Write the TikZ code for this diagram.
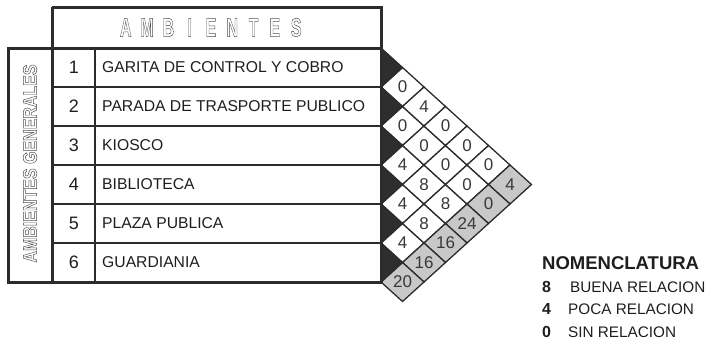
\documentclass[tikz,border=0pt]{standalone}
\usepackage{fontspec}
\setmainfont{Liberation Sans}
\usepackage{graphicx}
\definecolor{fr}{HTML}{2C2C2C}
\definecolor{tb}{HTML}{2E2E2E}
\definecolor{cg}{HTML}{C8C8C8}
\definecolor{ol}{HTML}{505050}
\definecolor{tx}{HTML}{1E1E1E}
\definecolor{cv}{HTML}{383838}
\newcommand\outlinetext[1]{\special{pdf:literal direct 1 Tr 0.55 w}#1\special{pdf:literal direct 0 Tr}}
\newcommand\spl[1]{\makebox[35.5pt]{#1}}
\begin{document}
\begin{tikzpicture}[x=1pt,y=-1pt,
  cellw/.style={fill=white,draw=fr,line width=1.3pt,line join=miter},
  cellg/.style={fill=cg,draw=fr,line width=1.3pt,line join=miter},
  tri/.style={fill=tb,draw=fr,line width=1.3pt},
  val/.style={text=cv,font=\fontsize{17}{18}\selectfont,inner sep=0pt},
  thick frame/.style={draw=fr,line width=3pt},
  thin frame/.style={draw=fr,line width=2pt},
  rowname/.style={anchor=west,text=tx,font=\fontsize{15.7}{16}\selectfont,inner sep=0pt},
  rownum/.style={text=tx,font=\fontsize{18}{19}\selectfont,inner sep=0pt},
  outl/.style={text=ol,inner sep=0pt},
  legend/.style={anchor=base west,text=tx,inner sep=0pt}]
\useasboundingbox (0,0) rectangle (713,340);

% ---- relation matrix ----
\foreach \i/\j/\v in {1/2/0,2/3/0,3/4/4,4/5/4,5/6/4,1/3/4,2/4/0,3/5/8,4/6/8,1/4/0,2/5/0,3/6/8,1/5/0,2/6/0,1/6/0}{
  \pgfmathsetmacro\cx{381+(\j-\i)*21.5}
  \pgfmathsetmacro\cy{67.5+39*(\i-1)+(\j-\i)*19.5}
  \path[cellw] (\cx-21.5,\cy) -- (\cx,\cy-19.5) -- (\cx+21.5,\cy) -- (\cx,\cy+19.5) -- cycle;
  \node[val] (c\i\j) at (\cx,\cy) {\v};
}
\foreach \i/\v in {1/4,2/0,3/24,4/16,5/16,6/20}{
  \pgfmathsetmacro\cx{381+(7-\i)*21.5}
  \pgfmathsetmacro\cy{67.5+39*(\i-1)+(7-\i)*19.5}
  \path[cellg] (\cx-21.5,\cy) -- (\cx,\cy-19.5) -- (\cx+21.5,\cy) -- (\cx,\cy+19.5) -- cycle;
  \node[val] (t\i) at (\cx,\cy) {\v};
}
\foreach \i in {1,...,6}{
  \path[tri] (381,{48+39*(\i-1)}) -- (402.5,{67.5+39*(\i-1)}) -- (381,{87+39*(\i-1)}) -- cycle;
}

% ---- table ----
\foreach \k in {1,...,5}{
  \draw[thin frame] (52,{48+39*\k}) -- (381,{48+39*\k});
}
\draw[thin frame] (95,48) -- (95,282);
\draw[thick frame] (52,48) -- (381,48);
\draw[thick frame] (52,7) -- (381,7) -- (381,282);
\draw[thick frame] (52,7) -- (52,282);
\draw[thick frame] (8,48) rectangle (381,282);

\node[outl] (hdr) at (211,27.5) {\scalebox{0.6}[1]{\fontsize{26.5}{27}\bfseries\selectfont\outlinetext{\spl{A}\spl{M}\spl{B}\spl{I}\spl{E}\spl{N}\spl{T}\spl{E}\spl{S}}}};
\node[outl,rotate=90] (side) at (30,163.5) {\scalebox{0.82}[1]{\fontsize{19.5}{20}\bfseries\selectfont\outlinetext{AMBIENTES GENERALES}}};

\foreach \t [count=\k] in {GARITA DE CONTROL Y COBRO,PARADA DE TRASPORTE PUBLICO,KIOSCO,BIBLIOTECA,PLAZA PUBLICA,GUARDIANIA}{
  \node[rownum] (n\k) at (74,{67.5+39*(\k-1)}) {\k};
  \node[rowname] (r\k) at (102,{67.5+39*(\k-1)}) {\t};
}

% ---- legend ----
\node[legend,font=\fontsize{18.5}{19}\bfseries\selectfont] (nom) at (542,269) {NOMENCLATURA};
\node[legend,font=\fontsize{16}{17}\bfseries\selectfont] (l8) at (542,292) {8};
\node[legend,font=\fontsize{15.3}{16}\selectfont] (b8) at (570,292) {BUENA RELACION};
\node[legend,font=\fontsize{16}{17}\bfseries\selectfont] (l4) at (542,314.5) {4};
\node[legend,font=\fontsize{15.3}{16}\selectfont] (b4) at (568,314.5) {POCA RELACION};
\node[legend,font=\fontsize{16}{17}\bfseries\selectfont] (l0) at (542,337) {0};
\node[legend,font=\fontsize{15.3}{16}\selectfont] (b0) at (568,337) {SIN RELACION};
\end{tikzpicture}
\end{document}
